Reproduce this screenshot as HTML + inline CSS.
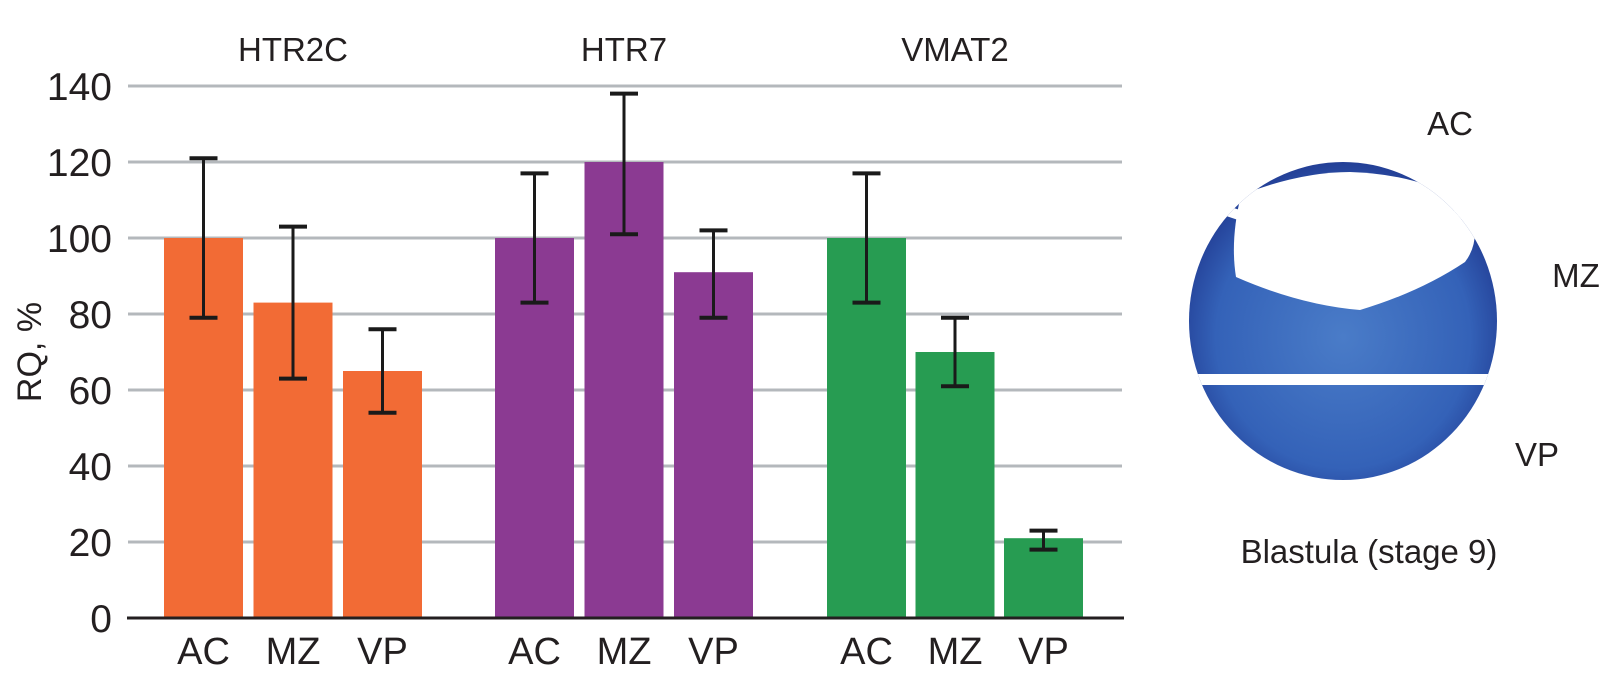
<!DOCTYPE html>
<html><head><meta charset="utf-8"><style>
html,body{margin:0;padding:0;background:#fff;}
svg{display:block;font-family:"Liberation Sans",Arial,sans-serif;}
</style></head><body>
<svg id="chart" width="1608" height="684" viewBox="0 0 1608 684" xmlns="http://www.w3.org/2000/svg">
<defs>
<radialGradient id="emb" cx="50%" cy="55%" r="55%">
<stop offset="0%" stop-color="#4a7cc8"/><stop offset="75%" stop-color="#3462b8"/><stop offset="100%" stop-color="#233f96"/>
</radialGradient>
<clipPath id="embclip"><ellipse cx="1343" cy="321" rx="154" ry="159"/></clipPath>
</defs>
<g id="grid"></g>
<g id="bars"></g>
<g id="axes"></g>
<text x="0" y="0" transform="translate(41,352) rotate(-90)" text-anchor="middle" font-size="34" fill="#231f20">RQ, %</text>
<g>
<ellipse cx="1343" cy="321" rx="154" ry="159" fill="url(#emb)"/>
<g clip-path="url(#embclip)">
<path d="M1241,195 Q1300,172 1350,172 Q1420,174 1470,205 Q1482,240 1465,262 Q1420,292 1360,310 Q1300,305 1236,277 Q1230,240 1241,195 Z" fill="#fff"/>
<rect x="1180" y="374" width="330" height="11" fill="#fff"/>
<line x1="1200" y1="202" x2="1248" y2="218" stroke="#fff" stroke-width="10"/>
<line x1="1490" y1="200" x2="1450" y2="218" stroke="#fff" stroke-width="10"/>
</g>
</g>
<text x="1450" y="135" text-anchor="middle" font-size="33" fill="#231f20">AC</text>
<text x="1576" y="287" text-anchor="middle" font-size="33" fill="#231f20">MZ</text>
<text x="1537" y="466" text-anchor="middle" font-size="33" fill="#231f20">VP</text>
<text x="1369" y="563" text-anchor="middle" font-size="33" fill="#231f20">Blastula (stage 9)</text>
</svg>
<script>
const genes = ["HTR2C","HTR7","VMAT2"];
const regions = ["AC","MZ","VP"];
const valuesHTR2C = [100, 83, 65];
const valuesHTR7 = [100, 120, 91];
const valuesVMAT2 = [100, 70, 21];
const errLowHTR2C = [79, 63, 54];
const errHighHTR2C = [121, 103, 76];
const errLowHTR7 = [83, 101, 79];
const errHighHTR7 = [117, 138, 102];
const errLowVMAT2 = [83, 61, 18];
const errHighVMAT2 = [117, 79, 23];
const yTicks = [0,20,40,60,80,100,120,140];
const geneColors = ["#f26b35","#8b3a92","#279c52"];

const NS="http://www.w3.org/2000/svg";
const gGrid=document.getElementById('grid'), gBars=document.getElementById('bars'), gAxes=document.getElementById('axes');
const y=v=>618-v*3.8;
const groupStart=[164,495,827], step=[89.5,89.5,88.5], barW=79;
const x=(g,r)=>groupStart[g]+r*step[g];
function mk(tag,attrs,parent){const e=document.createElementNS(NS,tag);for(const k in attrs)e.setAttribute(k,attrs[k]);parent.appendChild(e);return e;}
yTicks.forEach(t=>{
  if(t>0){const l=mk('line',{x1:128,x2:1122,y1:y(t),y2:y(t),stroke:'#b4b8bc','stroke-width':3},gGrid);
  
  }
  const tx=mk('text',{x:112,y:y(t)+14,'text-anchor':'end','font-size':39,fill:'#231f20'},gAxes);
  tx.textContent=t;
  
  
});
const vals=[valuesHTR2C,valuesHTR7,valuesVMAT2], lo=[errLowHTR2C,errLowHTR7,errLowVMAT2], hi=[errHighHTR2C,errHighHTR7,errHighVMAT2];
genes.forEach((gn,g)=>{
  const t=mk('text',{x:x(g,1)+barW/2,y:61,'text-anchor':'middle','font-size':33,fill:'#231f20'},gAxes);
  t.textContent=gn;
  
  
  regions.forEach((rg,r)=>{
    const bx=x(g,r), v=vals[g][r];
    const b=mk('rect',{x:bx,y:y(v),width:barW,height:618-y(v),fill:geneColors[g]},gBars);
    
    
    const cx=bx+barW/2;
    const eb=mk('g',{stroke:'#1a1a1a','stroke-width':3},gBars);
    
    
    mk('line',{x1:cx,x2:cx,y1:y(hi[g][r]),y2:y(lo[g][r])},eb);
    mk('line',{x1:cx-14,x2:cx+14,y1:y(hi[g][r]),y2:y(hi[g][r]),'stroke-width':4},eb);
    mk('line',{x1:cx-14,x2:cx+14,y1:y(lo[g][r]),y2:y(lo[g][r]),'stroke-width':4},eb);
    const lt=mk('text',{x:cx,y:664,'text-anchor':'middle','font-size':38,fill:'#231f20'},gAxes);
    lt.textContent=rg;
    
    
  });
});
const ax=mk('line',{x1:127,x2:1124,y1:618,y2:618,stroke:'#231f20','stroke-width':3},gAxes);


</script>
</body></html>
